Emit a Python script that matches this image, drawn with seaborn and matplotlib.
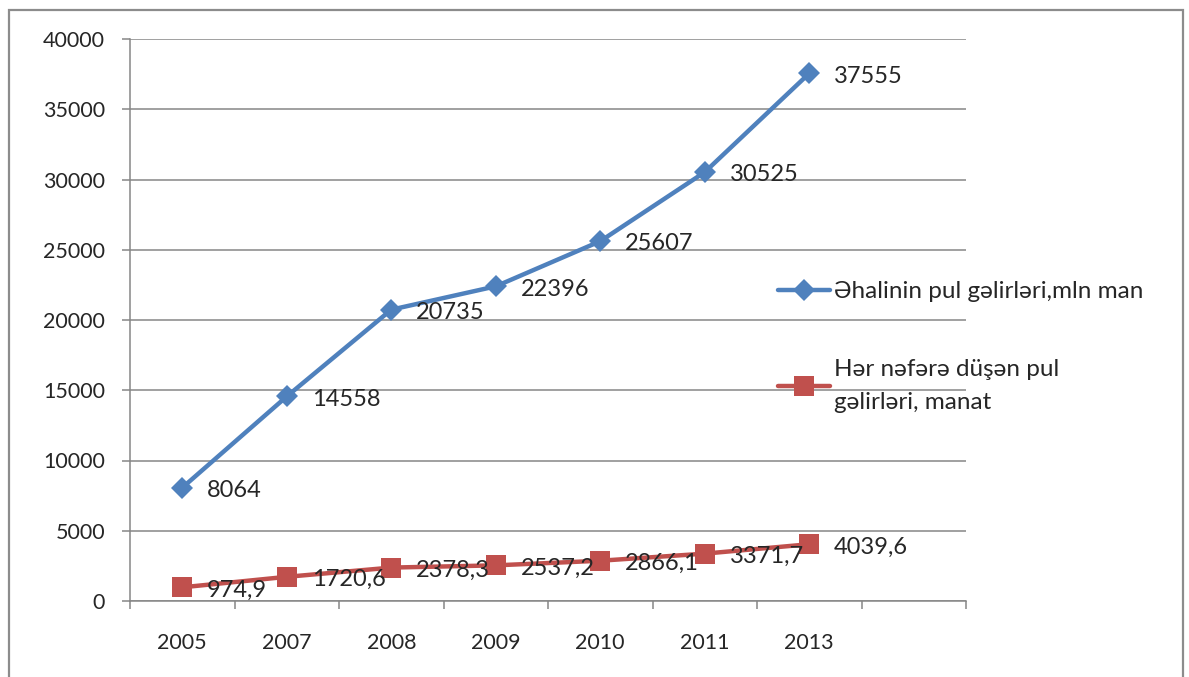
import matplotlib
matplotlib.use("Agg")
import matplotlib.pyplot as plt
import matplotlib.patches as mpatches
import seaborn as sns
import pandas as pd

years = ["2005", "2007", "2008", "2009", "2010", "2011", "2013"]
income_total = [8064, 14558, 20735, 22396, 25607, 30525, 37555]
income_per_capita = [974.9, 1720.6, 2378.3, 2537.2, 2866.1, 3371.7, 4039.6]
income_per_capita_txt = ["974,9", "1720,6", "2378,3", "2537,2", "2866,1", "3371,7", "4039,6"]
label_total = "Əhalinin pul gəlirləri,mln man"
label_per_capita = "Hər nəfərə düşən pul\ngəlirləri, manat"

blue = "#4F81BD"
red = "#C0504D"
grid = "#868686"

sns.set_theme(style="white")
plt.rcParams['font.family'] = ['Lato', 'DejaVu Sans']

df = pd.DataFrame({"year": years, "total": income_total, "per": income_per_capita})
df["pos"] = range(len(df))

fig = plt.figure(figsize=(11.89, 6.77), dpi=100)
ax = fig.add_axes([130 / 1189, 1 - 601 / 677, (966 - 130) / 1189, (601 - 39) / 677])

sns.lineplot(data=df, x="pos", y="total", color=blue, lw=3.2, marker="D", markersize=11,
             markeredgewidth=0, ax=ax, label=label_total)
sns.lineplot(data=df, x="pos", y="per", color=red, lw=3.2, marker="s", markersize=14,
             markeredgewidth=0, ax=ax, label=label_per_capita)

# data labels right of each point
for x, v in zip(df["pos"], income_total):
    ax.annotate(f"{v}", (x, v), xytext=(18, -2), textcoords="offset points",
                ha="left", va="center", fontsize=17)
for x, v, t in zip(df["pos"], income_per_capita, income_per_capita_txt):
    ax.annotate(t, (x, v), xytext=(18, -2), textcoords="offset points",
                ha="left", va="center", fontsize=17)

ax.set_xlim(-0.5, 7.5)
ax.set_ylim(0, 40000)
ax.set_yticks(range(0, 40001, 5000))
ax.set_xticks([i - 0.5 for i in range(9)])
ax.set_xticklabels([])
ax.set_xticks(range(len(years)), minor=True)
ax.set_xticklabels(years, minor=True)
ax.tick_params(axis="x", which="minor", length=0, pad=23, labelsize=15.5)
ax.tick_params(axis="x", which="major", length=6, width=1.1, color=grid, direction="out", bottom=True)
ax.tick_params(axis="y", length=6, width=1.1, color=grid, direction="out", left=True, pad=12, labelsize=15.5)
ax.yaxis.grid(True, color=grid, lw=1.1)
ax.set_xlabel(None)
ax.set_ylabel(None)
for s in ["top", "right"]:
    ax.spines[s].set_visible(False)
for s in ["left", "bottom"]:
    ax.spines[s].set_color(grid)
    ax.spines[s].set_linewidth(1.1)

leg = ax.legend(loc="upper left", bbox_to_anchor=(778 / 1189, 1 - 281 / 677),
                bbox_transform=fig.transFigure, frameon=False, fontsize=17.5,
                handlelength=2.14, handletextpad=0.17, labelspacing=2.35,
                borderpad=0, borderaxespad=0)
for t in leg.get_texts():
    t.set_linespacing(1.7)

fig.add_artist(mpatches.Rectangle((9 / 1189, -0.1), 1174 / 1189, 1.1 - 10 / 677,
                                  transform=fig.transFigure, fill=False,
                                  edgecolor="#8c8c8c", lw=1.6))

fig.savefig("out.png", dpi=100)
